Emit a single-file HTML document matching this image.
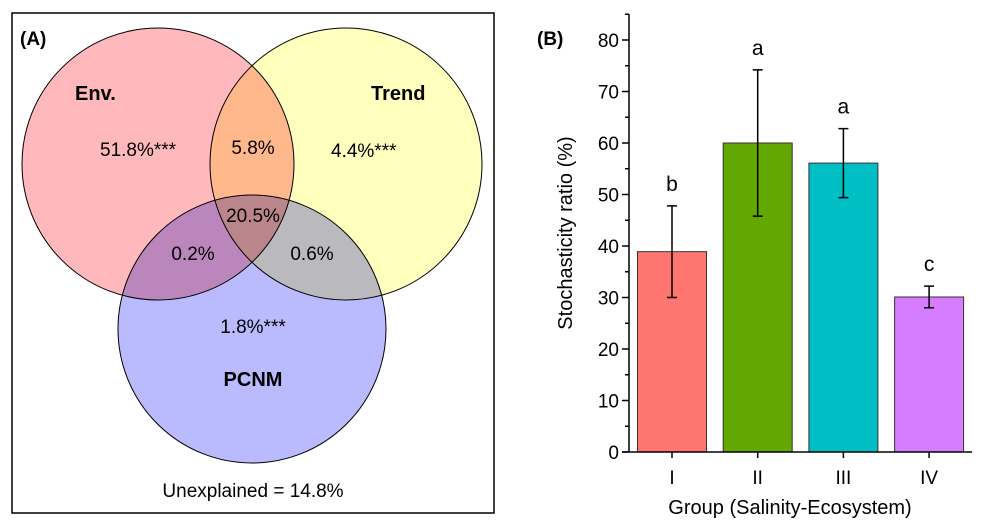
<!DOCTYPE html>
<html><head><meta charset="utf-8"><style>
body{margin:0;background:#fff}
svg{display:block;font-family:"Liberation Sans",Arial,sans-serif}
</style></head><body>
<svg width="982" height="526" viewBox="0 0 982 526">
<g>
<rect x="12" y="13" width="482" height="500" fill="#fff" stroke="#000" stroke-width="1.5"/>
<text x="20" y="45" font-size="19" font-weight="bold">(A)</text>
<g style="mix-blend-mode:multiply">
<circle cx="158" cy="164" r="136" fill="#ffb8bc"/>
<circle cx="346" cy="164" r="136" fill="#ffffbe" style="mix-blend-mode:multiply"/>
<circle cx="252" cy="329" r="134" fill="#babaff" style="mix-blend-mode:multiply"/>
</g>
<circle cx="158" cy="164" r="136" fill="none" stroke="#000" stroke-width="1"/>
<circle cx="346" cy="164" r="136" fill="none" stroke="#000" stroke-width="1"/>
<circle cx="252" cy="329" r="134" fill="none" stroke="#000" stroke-width="1"/>
<g font-size="19">
<text x="75" y="100" font-weight="bold" font-size="20">Env.</text>
<text x="371" y="100" font-weight="bold" font-size="20">Trend</text>
<text x="253" y="386" font-weight="bold" font-size="20" text-anchor="middle">PCNM</text>
<text x="100" y="156">51.8%***</text>
<text x="253" y="154" text-anchor="middle">5.8%</text>
<text x="331" y="157">4.4%***</text>
<text x="253" y="222" text-anchor="middle">20.5%</text>
<text x="193" y="260" text-anchor="middle">0.2%</text>
<text x="312" y="260" text-anchor="middle">0.6%</text>
<text x="253" y="333" text-anchor="middle">1.8%***</text>
<text x="253" y="497" text-anchor="middle">Unexplained = 14.8%</text>
</g>
</g>
<g id="chart"></g>
</svg>
<script>
const categories=["I","II","III","IV"];
const values=[38.9,60.0,56.1,30.1];
const errors=[8.9,14.2,6.7,2.1];
const letters=["b","a","a","c"];
const colors=["#ff7570","#62a800","#00bfc4","#d67cff"];
const yTicks=[0,10,20,30,40,50,60,70,80];
const NS="http://www.w3.org/2000/svg";
const g=document.getElementById('chart');
const X0=629,X1=972,Y0=452,PX=5.15,STEP=85.7,BW=69,FIRST=672;
const y=v=>Y0-v*PX;
const xc=i=>FIRST+i*STEP;
function el(t,a,txt){const e=document.createElementNS(NS,t);for(const k in a)e.setAttribute(k,a[k]);if(txt!==undefined)e.textContent=txt;g.appendChild(e);return e;}
let t=el('text',{x:537,y:45,'font-size':19,'font-weight':'bold'},'(B)');


values.forEach((v,i)=>{
 const r=el('rect',{x:xc(i)-BW/2,y:y(v),width:BW,height:Y0-y(v),fill:colors[i],stroke:'#333','stroke-width':1});
 
 
 const hi=y(v+errors[i]),lo=y(v-errors[i]);
 const e=el('path',{d:`M${xc(i)},${hi}V${lo}M${xc(i)-5},${hi}H${xc(i)+5}M${xc(i)-5},${lo}H${xc(i)+5}`,stroke:'#000','stroke-width':1.5,fill:'none'});
 
 
 const l=el('text',{x:xc(i),y:hi-15,'font-size':21,'text-anchor':'middle'},letters[i]);
 
 
 const xl=el('text',{x:xc(i),y:484,'font-size':19,'text-anchor':'middle'},categories[i]);
 
 
 const tk=el('line',{x1:xc(i),x2:xc(i),y1:Y0,y2:Y0+6,stroke:'#000','stroke-width':1.5});
 
 
});
yTicks.forEach(v=>{
 const tk=el('line',{x1:X0-7,x2:X0,y1:y(v),y2:y(v),stroke:'#000','stroke-width':1.5});
 
 
 const mt=el('line',{x1:X0-4,x2:X0,y1:y(v+5),y2:y(v+5),stroke:'#000','stroke-width':1.5});
 
 
 const lb=el('text',{x:X0-10,y:y(v)+7,'font-size':19,'text-anchor':'end'},String(v));
 
 
});
const ya=el('line',{x1:X0,x2:X0,y1:14,y2:Y0,stroke:'#000','stroke-width':1.5});


const xa=el('line',{x1:X0-7,x2:X1,y1:Y0,y2:Y0,stroke:'#000','stroke-width':1.5});


const yt=el('text',{x:0,y:0,'font-size':20,'text-anchor':'middle',transform:'translate(572,233) rotate(-90)'},'Stochasticity ratio (%)');


const xt=el('text',{x:790,y:514,'font-size':20,'text-anchor':'middle'},'Group (Salinity-Ecosystem)');


</script>
</body></html>
